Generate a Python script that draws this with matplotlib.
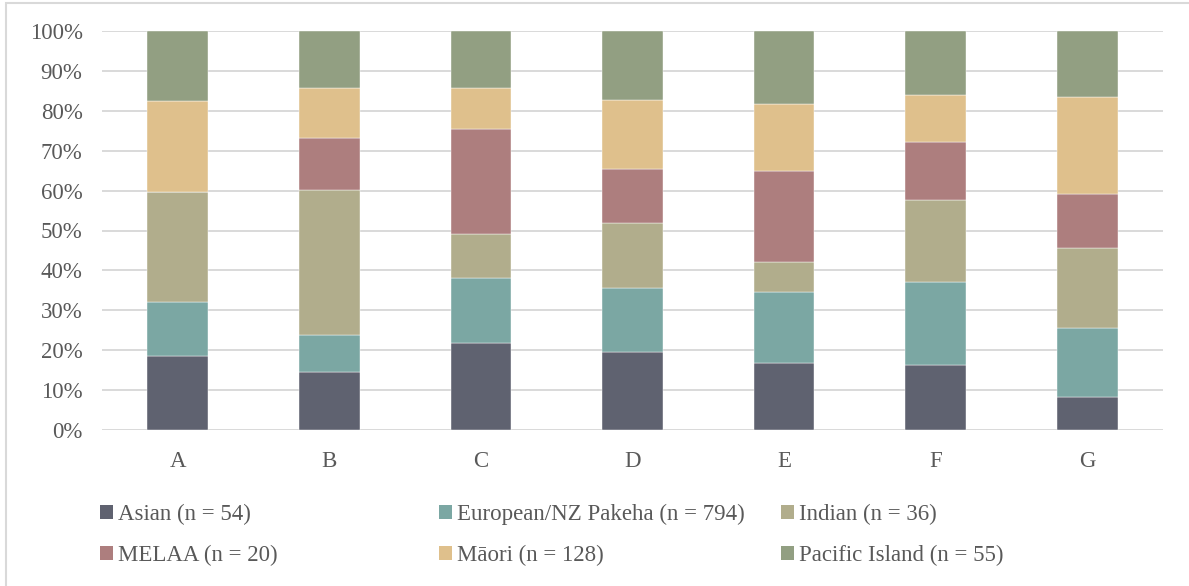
import matplotlib
matplotlib.use("Agg")
import matplotlib.pyplot as plt
from matplotlib.patches import Rectangle, Patch
import numpy as np

# Share of each group per category (percent)
categories = ["A", "B", "C", "D", "E", "F", "G"]
series_names = [
    "Asian (n = 54)",
    "European/NZ Pakeha (n = 794)",
    "Indian (n = 36)",
    "MELAA (n = 20)",
    "Māori (n = 128)",
    "Pacific Island (n = 55)",
]
asian = [18.5, 14.6, 21.7, 19.6, 16.7, 16.3, 8.3]
european = [13.7, 9.2, 16.5, 15.9, 18.0, 20.7, 17.2]
indian = [27.5, 36.4, 10.9, 16.4, 7.5, 20.6, 20.2]
melaa = [0.0, 13.1, 26.3, 13.5, 22.7, 14.7, 13.5]
maori = [22.8, 12.3, 10.2, 17.2, 16.9, 11.6, 24.3]
pacific = [17.5, 14.4, 14.4, 17.4, 18.2, 16.1, 16.5]
y_ticks = [0, 10, 20, 30, 40, 50, 60, 70, 80, 90, 100]

colors = ["#5F6270", "#7BA7A3", "#B1AD8C", "#AD7E7E", "#DFC08C", "#929F82"]
text_color = "#595959"
grid_color = "#D9D9D9"
fs = 16.5

plt.rcParams["font.family"] = ["Liberation Serif", "DejaVu Serif"]
plt.rcParams["font.size"] = fs

fig = plt.figure(figsize=(11.89, 5.86), dpi=100)
ax = fig.add_axes([102 / 1189, 1 - 430 / 586, (1163 - 102) / 1189, (430 - 31) / 586])

data = [asian, european, indian, melaa, maori, pacific]
x = np.arange(len(categories))
bottom = np.zeros(len(categories))
for vals, col, name in zip(data, colors, series_names):
    v = np.array(vals)
    ax.bar(x, v, 0.4, bottom=bottom, color=col, label=name,
           edgecolor="#FFFFFF", linewidth=0.3, zorder=3)
    bottom += v

ax.set_xlim(-0.5, len(categories) - 0.5)
ax.set_ylim(0, 100)
ax.set_yticks(y_ticks)
ax.set_yticklabels([f"{t}%" for t in y_ticks])
ax.set_xticks(x)
ax.set_xticklabels(categories)
ax.tick_params(axis="both", length=0, colors=text_color, labelsize=fs)
ax.tick_params(axis="y", pad=14)
ax.tick_params(axis="x", pad=15)
ax.yaxis.grid(True, color=grid_color, linewidth=1.4, zorder=0)
for s in ax.spines.values():
    s.set_visible(False)

# Legend laid out in three equally wide columns
handles = [Patch(facecolor=c) for c in colors]
col_x = [100, 439, 781]
for i, cx in enumerate(col_x):
    idx = [i, i + 3]
    fig.legend([handles[j] for j in idx], [series_names[j] for j in idx],
               loc="upper left", bbox_to_anchor=(cx / 1189, 1 - 504 / 586),
               frameon=False, ncol=1, handlelength=0.55, handleheight=0.55,
               handletextpad=0.22, labelspacing=0.86, borderpad=0,
               borderaxespad=0, labelcolor=text_color, fontsize=fs)

# Thin frame around the chart
fig.patches.append(Rectangle((6 / 1189, -0.1), 1.2, 1 - 2.5 / 586 + 0.1,
                             transform=fig.transFigure, fill=False,
                             edgecolor="#D9D9D9", linewidth=1.5))

fig.savefig("out.png", dpi=100)
